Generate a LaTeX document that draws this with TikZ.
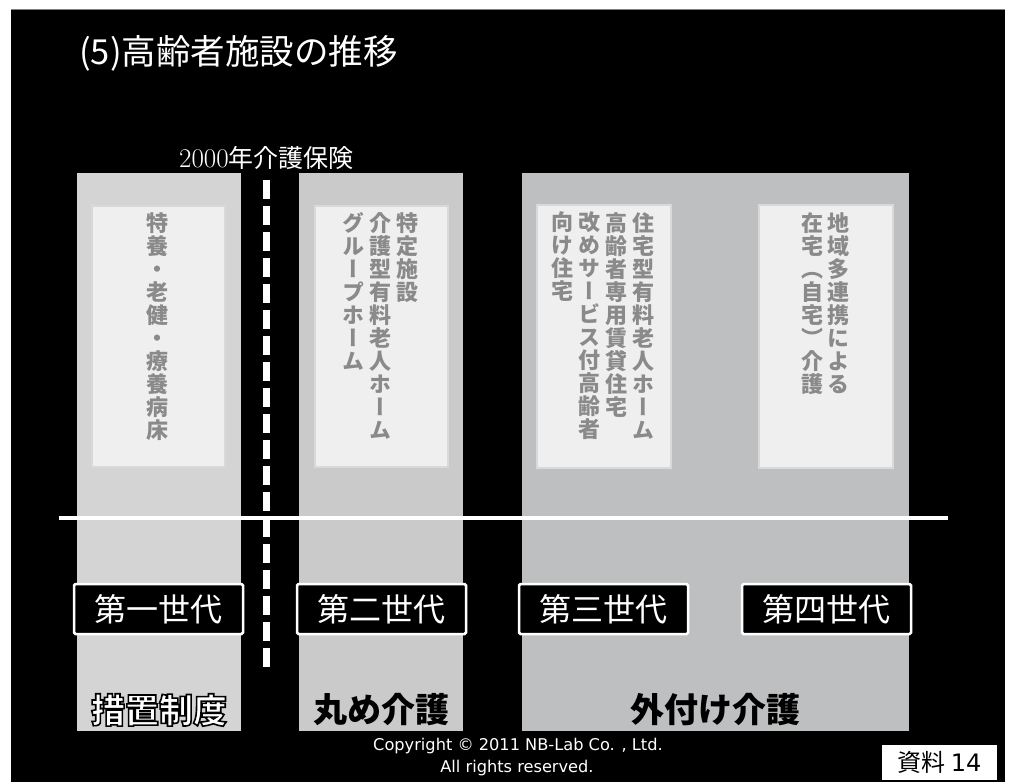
\documentclass[tikz,border=0pt]{standalone}
\usepackage{fontspec}
\setmainfont{Noto Sans CJK JP}
\newfontfamily\vfont[RawFeature={+vert}]{Noto Sans CJK JP}
\newfontfamily\cpfont{DejaVu Sans}
\newfontfamily\lmfont{Latin Modern Roman}
\definecolor{colA}{HTML}{D3D4D3}
\definecolor{colB}{HTML}{C9CAC9}
\definecolor{colC}{HTML}{BEBFC0}
\definecolor{inbox}{HTML}{EFEFEF}
\definecolor{inedge}{HTML}{D9D9D9}
\definecolor{vtext}{HTML}{8A8A8A}
\newcommand\outlinedtext[1]{\special{pdf:literal direct 0 0 0 RG 1.6 w 2 Tr}#1\special{pdf:literal direct 0 Tr}}
\tikzset{
  column/.style={fill=#1, draw=none},
  innerbox/.style={fill=inbox, draw=inedge, line width=2pt},
  vcol/.style={anchor=north, inner sep=0pt, align=center, text=vtext, font=\vfont\bfseries\fontsize{22}{23}\selectfont},
  genbox/.style={fill=black, draw=white, line width=2.5pt, rounded corners=1.5pt},
  gentext/.style={text=white, inner sep=0pt, font=\fontsize{32}{34}\selectfont},
  eralabel/.style={inner sep=0pt, font=\bfseries\fontsize{34}{36}\selectfont},
  cptext/.style={text=white, inner sep=0pt, font=\cpfont\fontsize{16.2}{18}\selectfont},
}
\begin{document}
\begin{tikzpicture}[x=1pt, y=-1pt]
\useasboundingbox (0,0) rectangle (1009,782);
\fill[white] (0,0) rectangle (1009,782);
\fill[black] (11,9) rectangle (1005,782);
\draw[gray, line width=1pt] (11,9.5) -- (1005,9.5);

% title
\node[anchor=west, text=white, inner sep=0pt, font=\fontsize{34.5}{36}\selectfont] (title) at (79,53) {(5)高齢者施設の推移};
\node[anchor=west, text=white, inner sep=0pt, font=\fontsize{25}{27}\selectfont] (law) at (179,158) {{\lmfont\fontsize{27}{28}\selectfont 2000}年介護保険};

% columns
\fill[column=colA] (77,173) rectangle (241,731);
\fill[column=colB] (299,173) rectangle (463,731);
\fill[column=colC] (522,173) rectangle (909,731);

% inner boxes
\draw[innerbox] (92,206) rectangle (225,467);
\draw[innerbox] (315,206) rectangle (448,467);
\draw[innerbox] (537,205) rectangle (671,468);
\draw[innerbox] (759,205) rectangle (893,468);

% vertical texts
\node[vcol] (v1) at (157,212) {特\\養\\・\\老\\健\\・\\療\\養\\病\\床};
\node[vcol] (v2a) at (407,212) {特\\定\\施\\設};
\node[vcol] (v2b) at (380,212) {介\\護\\型\\有\\料\\老\\人\\ホ\\ー\\ム};
\node[vcol] (v2c) at (353,212) {グ\\ル\\ー\\プ\\ホ\\ー\\ム};
\node[vcol] (v3a) at (643,212) {住\\宅\\型\\有\\料\\老\\人\\ホ\\ー\\ム};
\node[vcol] (v3b) at (616,212) {高\\齢\\者\\専\\用\\賃\\貸\\住\\宅};
\node[vcol] (v3c) at (589,212) {改\\め\\サ\\ー\\ビ\\ス\\付\\高\\齢\\者};
\node[vcol] (v3d) at (562,212) {向\\け\\住\\宅};
\node[vcol] (v4a) at (838,212) {地\\域\\多\\連\\携\\に\\よ\\る};
\node[vcol] (v4b) at (812,212) {在\\宅\\（\\自\\宅\\）\\介\\護};

% law dashed line
\coordinate (dtop) at (266,180);
\coordinate (dbot) at (266,667);
\draw[white, line width=7pt, dash pattern=on 19pt off 7pt] (dtop) -- (dbot);

% horizontal line
\coordinate (hl) at (59,518);
\coordinate (hr) at (948,518);
\draw[white, line width=4pt] (hl) -- (hr);

% generation boxes
\draw[genbox] (74,584) rectangle (243,634);
\draw[genbox] (297,584) rectangle (466,634);
\draw[genbox] (519,584) rectangle (688,634);
\draw[genbox] (742,584) rectangle (911,634);
\node[gentext] (g1) at (158.5,609) {第一世代};
\node[gentext] (g2) at (381.5,609) {第二世代};
\node[gentext] (g3) at (603.5,609) {第三世代};
\node[gentext] (g4) at (826.5,609) {第四世代};

% era labels
\node[eralabel, text=white] (e1) at (159,710) {\outlinedtext{措置制度}};
\node[eralabel, text=black] (e2) at (381,710) {丸め介護};
\node[eralabel, text=black] (e3) at (715,710) {外付け介護};

% copyright
\node[cptext] (cp1) at (518,746) {Copyright © 2011 NB-Lab Co. , Ltd.};
\node[cptext] (cp2) at (517,768) {All rights reserved.};

% page label
\fill[white] (882,745) rectangle (997,780);
\node[text=black, inner sep=0pt, font=\fontsize{24}{26}\selectfont] (page) at (939.5,762.5) {資料 {\cpfont 14}};
\end{tikzpicture}
\end{document}
